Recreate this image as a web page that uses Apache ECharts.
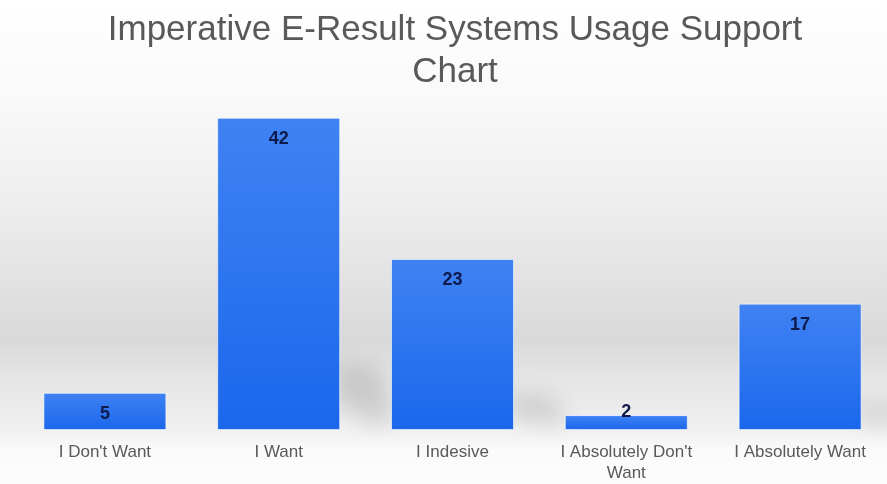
<!DOCTYPE html>
<html>
<head>
<meta charset="utf-8">
<script src="https://cdn.jsdelivr.net/npm/echarts@6/dist/echarts.min.js"></script>
<style>
html,body{margin:0;padding:0;background:#fff;}
#main{width:887px;height:484px;}
</style>
</head>
<body>
<div id="main"></div>
<script>
const titleText = "Imperative E-Result Systems Usage Support\nChart";
const categories = ["I Don't Want", "I Want", "I Indesive", "I Absolutely Don't\nWant", "I Absolutely Want"];
const values = [5, 42, 23, 2, 17];
const yMax = 45;

const chart = echarts.init(document.getElementById('main'), null, {renderer: 'canvas'});

const barData = values.map(function (v) {
  if (v < 4) {
    return {value: v, label: {position: 'top', distance: -6}};
  }
  return v;
});

const FONT = 'Liberation Sans, Arial, sans-serif';
const BAR_W = 123;
const FAR = 3000;

function renderShadow(params, api) {
  const idx = api.value(0);
  const v = api.value(1);
  const top = api.coord([idx, v]);
  const bot = api.coord([idx, 0]);
  const xr = top[0] + BAR_W / 2;
  const yb = bot[1];
  const h = yb - top[1];
  const s = h * 0.22;
  if (s < 12) return null;
  const pts = [
    [xr - 6, yb - s],
    [xr + 40, yb - s + 6],
    [xr + 55, yb - 8],
    [xr + 30, yb - 6],
    [xr - 6, yb - s * 0.4]
  ].map(function (p) { return [p[0] - FAR, p[1]]; });
  return {
    type: 'polygon',
    shape: {points: pts},
    style: {
      fill: 'rgba(0,0,0,1)',
      shadowColor: 'rgba(0,0,0,0.13)',
      shadowBlur: 22,
      shadowOffsetX: FAR,
      shadowOffsetY: 0
    },
    silent: true
  };
}

chart.setOption({
  animation: false,
  backgroundColor: new echarts.graphic.LinearGradient(0, 0, 0, 1, [
    {offset: 0, color: '#ffffff'},
    {offset: 0.18, color: '#fafafa'},
    {offset: 0.42, color: '#eeeeee'},
    {offset: 0.70, color: '#d9d9d9'},
    {offset: 0.78, color: '#e5e5e5'},
    {offset: 0.89, color: '#f1f1f1'},
    {offset: 0.93, color: '#fafafa'},
    {offset: 1, color: '#fdfdfd'}
  ]),
  graphic: [{
    type: 'text',
    x: 455,
    y: 9,
    style: {
      text: titleText,
      align: 'center',
      verticalAlign: 'top',
      font: 'normal 35px ' + FONT,
      lineHeight: 42,
      fill: '#595959'
    }
  }],
  grid: {left: 18, right: 0, top: 95.5, bottom: 49, containLabel: false},
  xAxis: {
    type: 'category',
    data: categories,
    axisLine: {show: false},
    axisTick: {show: false},
    axisLabel: {
      interval: 0,
      margin: 12,
      fontFamily: FONT,
      fontSize: 17,
      lineHeight: 21,
      color: '#595959'
    }
  },
  yAxis: {
    type: 'value',
    min: 0,
    max: yMax,
    show: false,
    splitLine: {show: false}
  },
  series: [{
    type: 'custom',
    z: 1,
    renderItem: renderShadow,
    data: values.map(function (v, i) { return [i, v]; }),
    encode: {x: 0, y: 1},
    silent: true
  }, {
    type: 'bar',
    z: 2,
    data: barData,
    barWidth: BAR_W,
    itemStyle: {
      color: new echarts.graphic.LinearGradient(0, 0, 0, 1, [
        {offset: 0, color: '#3f82f3'},
        {offset: 1, color: '#1b67ec'}
      ]),
      borderColor: 'rgba(255,255,255,0.6)',
      borderWidth: 1
    },
    label: {
      show: true,
      position: 'insideTop',
      distance: 12,
      fontFamily: FONT,
      fontSize: 18,
      fontWeight: 'bold',
      color: '#0d1a4a'
    }
  }]
});
</script>
</body>
</html>
